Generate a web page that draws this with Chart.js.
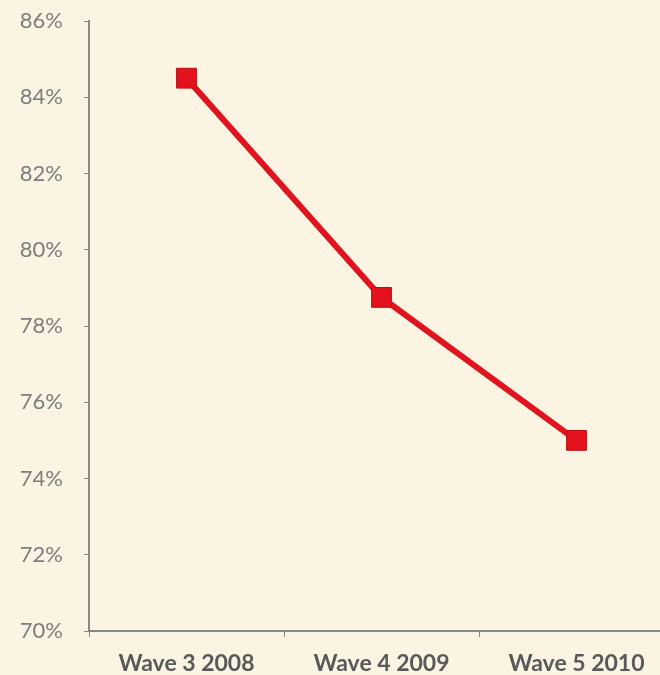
<!DOCTYPE html>
<html>
<head>
<meta charset="utf-8">
<script src="https://cdn.jsdelivr.net/npm/chart.js@4.4.1/dist/chart.umd.min.js"></script>
<style>
    html, body { margin: 0; padding: 0; background: #fbf4e2; overflow: hidden; }
    #wrap { position: absolute; left: 0; top: 0; width: 680px; height: 675px; }
    #waveChart { display: block; }
</style>
</head>
<body>
<div id="wrap"><canvas id="waveChart" width="680" height="675"></canvas></div>
<script>
// Data
const waves = ['Wave 3 2008', 'Wave 4 2009', 'Wave 5 2010'];
const shareValues = [84.5, 78.75, 75.0];
const yMin = 70;
const yMax = 86;
const yStep = 2;

const AXIS_GREY = '#868686';
const PLOT_RIGHT = 674; // axis runs off the right edge, as in the original

// the category axis in the original runs past the frame, stretch it after layout
const stretchX = {
    id: 'stretchX',
    afterLayout(chart) {
        const x = chart.scales.x;
        x.right = PLOT_RIGHT;
        x.width = x.right - x.left;
        chart.chartArea.right = PLOT_RIGHT;
        chart.chartArea.width = chart.chartArea.right - chart.chartArea.left;
        x.configure();
    }
};

new Chart(document.getElementById('waveChart'), {
    type: 'line',
    data: {
        labels: waves,
        datasets: [{
            data: shareValues,
            borderColor: '#e0141e',
            borderWidth: 6,
            backgroundColor: '#e3121c',
            pointStyle: 'rect',
            pointRadius: 14,
            pointBorderColor: '#b80f18',
            pointBorderWidth: 1,
            tension: 0
        }]
    },
    options: {
        responsive: false,
        animation: false,
        devicePixelRatio: 1,
        layout: { padding: { top: 21, right: 6, left: 0, bottom: 0 } },
        plugins: { legend: { display: false }, tooltip: { enabled: false } },
        scales: {
            x: {
                offset: true,
                grid: {
                    offset: true,
                    drawOnChartArea: false,
                    drawTicks: true,
                    tickLength: 6,
                    color: AXIS_GREY
                },
                border: { color: AXIS_GREY, width: 2 },
                ticks: {
                    color: '#595959',
                    padding: 13,
                    maxRotation: 0,
                    font: { family: 'Lato', size: 23, weight: 'bold' }
                },
                afterFit: (scale) => {
                    scale.height = 44;
                    scale.paddingLeft = 0;
                    scale.paddingRight = 0;
                }
            },
            y: {
                min: yMin,
                max: yMax,
                grid: {
                    drawOnChartArea: false,
                    drawTicks: true,
                    tickLength: 5,
                    color: AXIS_GREY
                },
                border: { color: AXIS_GREY, width: 2 },
                ticks: {
                    stepSize: yStep,
                    color: '#7d7d7d',
                    padding: 21,
                    font: { family: 'Lato', size: 22 },
                    callback: (v) => v + '%'
                },
                afterFit: (scale) => {
                    scale.width = 89;
                    scale.paddingTop = 0;
                    scale.paddingBottom = 0;
                }
            }
        }
    },
    plugins: [stretchX]
});
</script>
</body>
</html>
